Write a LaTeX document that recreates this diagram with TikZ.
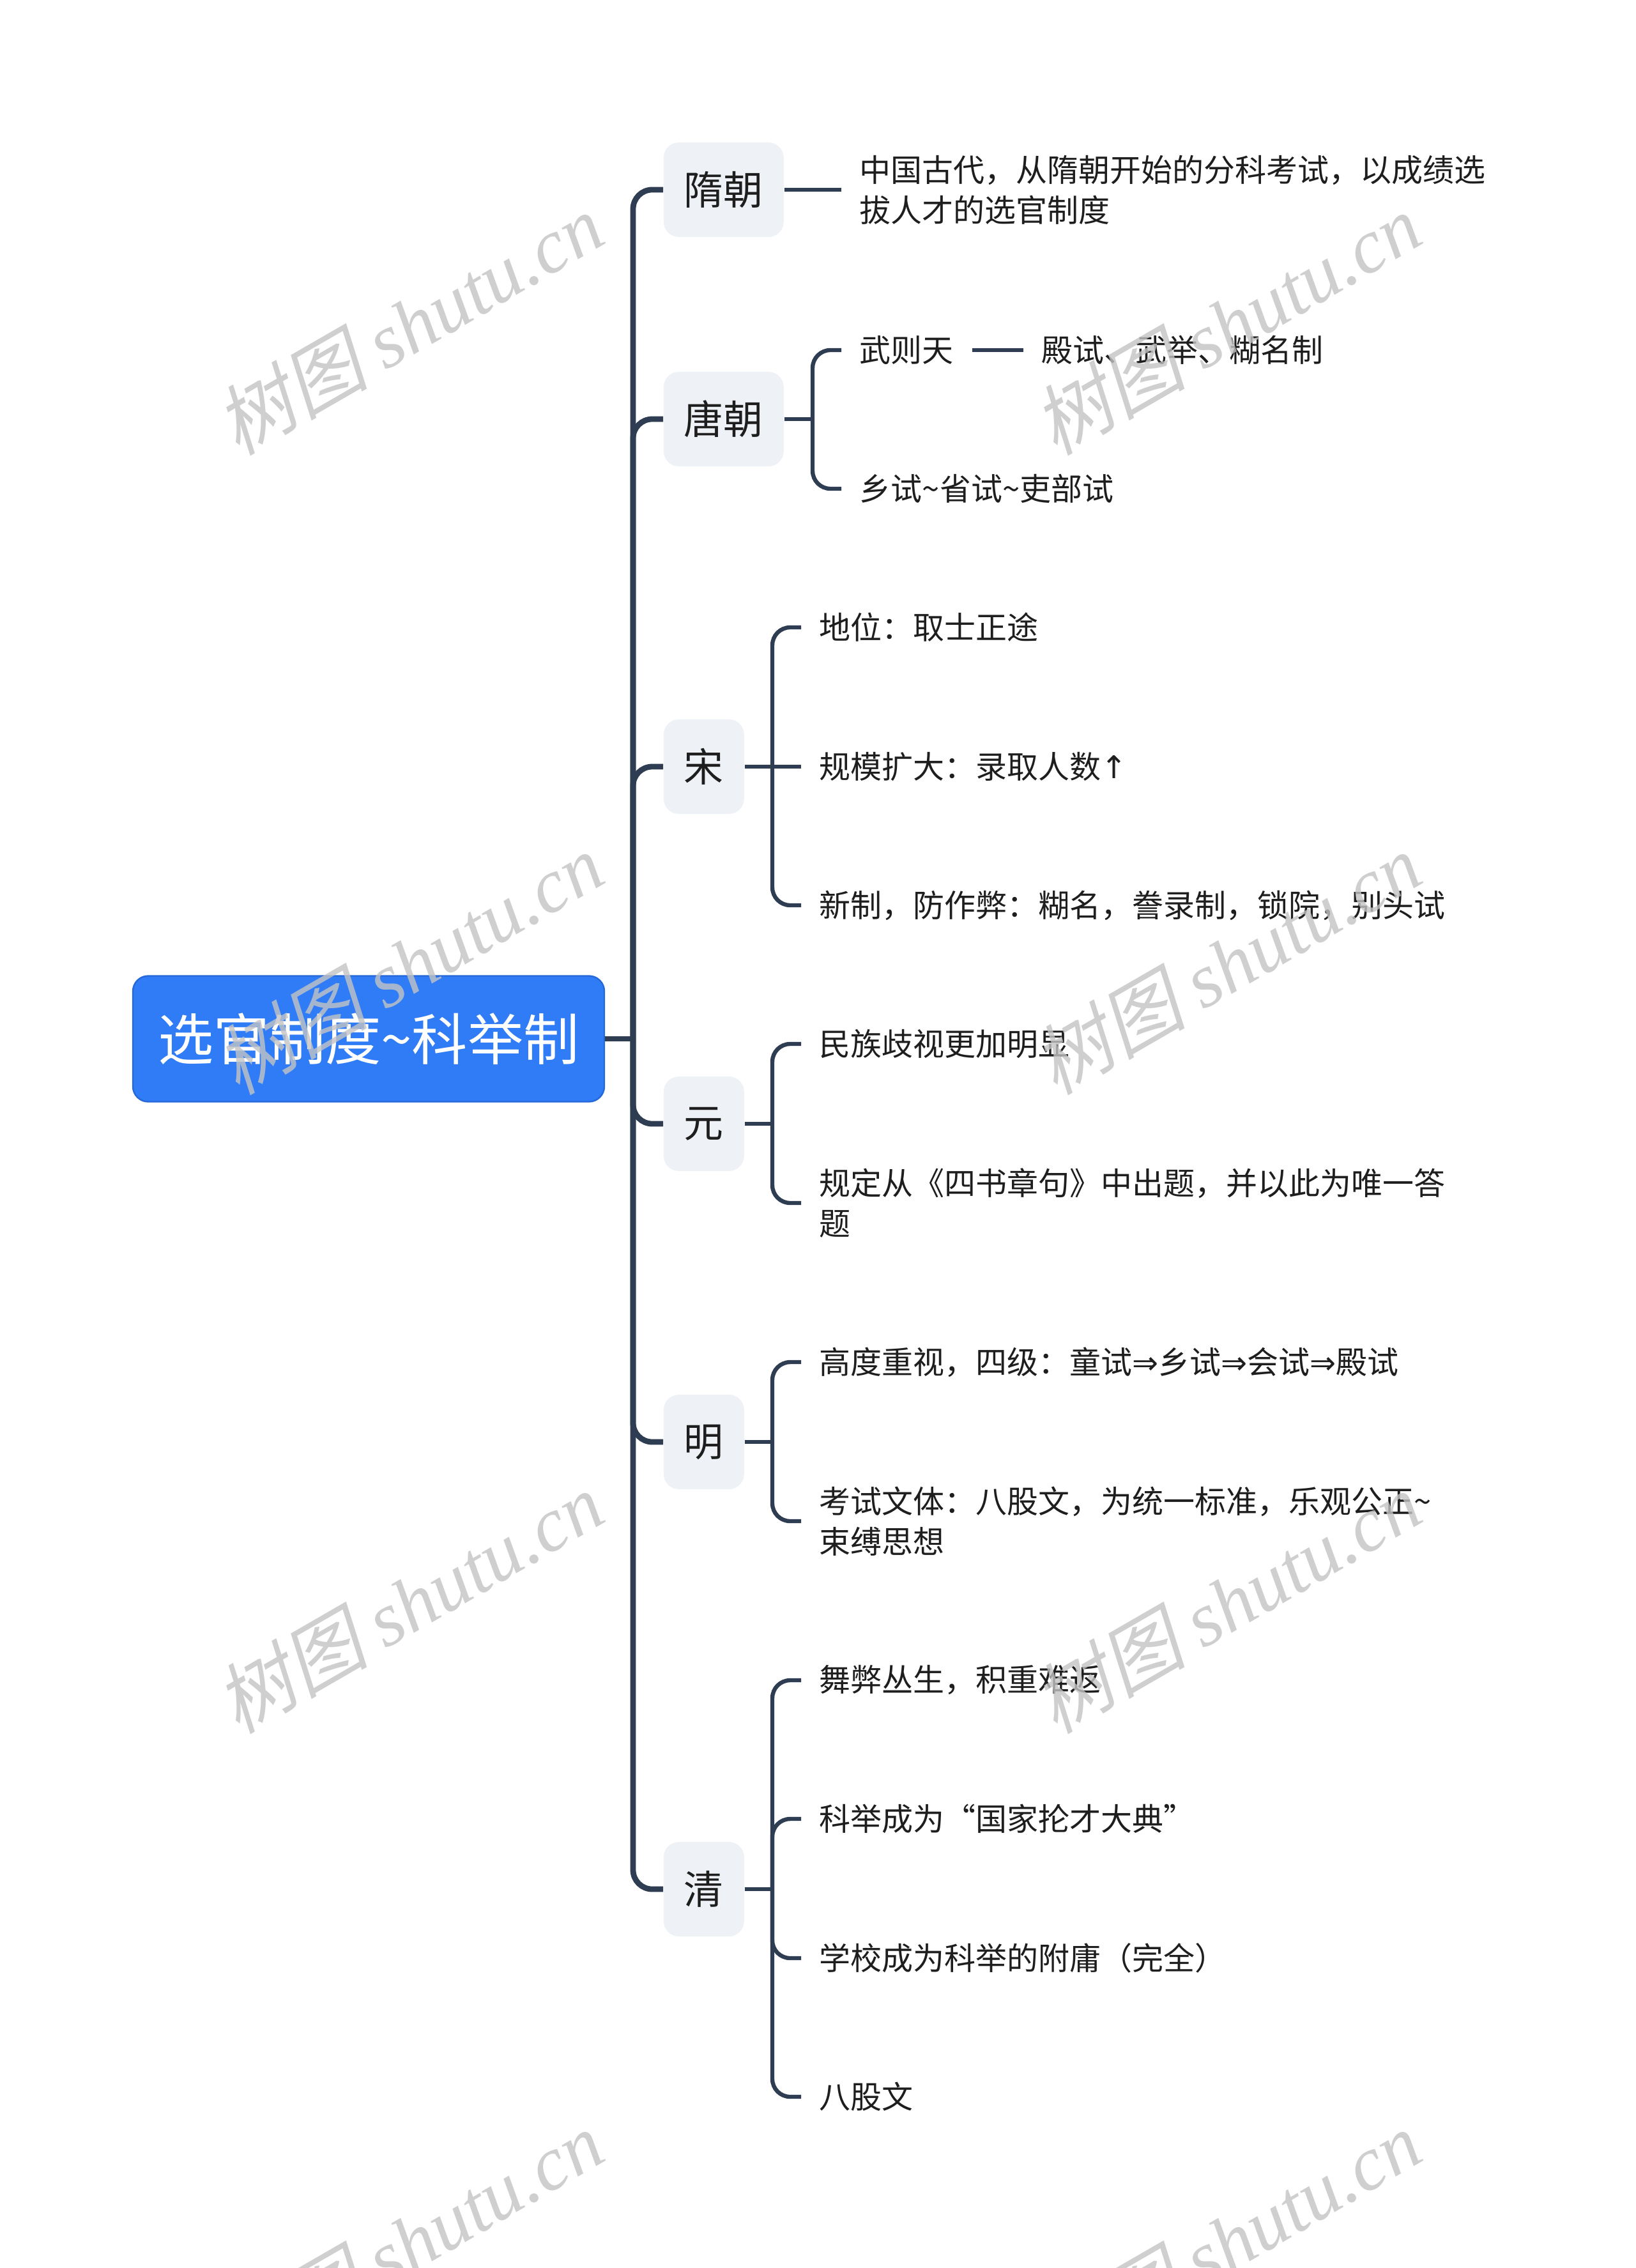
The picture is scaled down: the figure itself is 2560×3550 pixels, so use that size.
\documentclass[tikz,border=0pt]{standalone}
\usepackage{fontspec}
\setmainfont{Noto Sans CJK SC}
\newfontfamily\wmcjk[FakeSlant=0.22]{Noto Sans CJK SC}
\newfontfamily\wmlat{Liberation Serif}
\newfontfamily\symf{DejaVu Sans}
\newcommand{\tld}{\char"007E\relax}
\definecolor{lineC}{HTML}{2F3D52}
\definecolor{boxC}{HTML}{EEF1F5}
\definecolor{rootC}{HTML}{2F7CF6}
\definecolor{rootD}{HTML}{2568D8}
\definecolor{txtC}{HTML}{1E1E1E}
\definecolor{wmC}{HTML}{C4C4C4}
\begin{document}
\begin{tikzpicture}[x=0.25pt,y=-0.25pt,
 conn/.style={draw=lineC, line width=1.6pt, rounded corners=7pt},
 trunkc/.style={draw=lineC, line width=2.2pt, rounded corners=7.5pt},
 rootbox/.style={fill=rootC, draw=rootD, line width=0.6pt, rounded corners=6pt, minimum width=184.5pt, minimum height=49.25pt, inner sep=0pt, text=white, font=\fontsize{21.8pt}{25pt}\selectfont},
 lvone/.style={fill=boxC, rounded corners=6pt, minimum height=37pt, inner sep=0pt, font=\fontsize{15.5pt}{18pt}\selectfont, text=txtC, anchor=west},
 leaf/.style={anchor=west, inner xsep=7pt, inner ysep=1pt, align=left, font=\fontsize{12.25pt}{15.75pt}\selectfont, text=txtC},
 wm/.style={rotate=30, text=wmC, opacity=0.8, inner sep=0pt}
]
\fill[white] (0,0) rectangle (2560,3550);
\useasboundingbox (0,0) rectangle (2560,3550);

% root
\node[rootbox] (root) at (577,1626) {选官制度\tld 科举制};
\coordinate (tr) at (991,1626);
\draw[trunkc] (root.east) -- (tr);

% level one
\node[lvone, minimum width=47pt] (sui) at (1038,297) {隋朝};
\node[lvone, minimum width=47pt] (tang) at (1038,656) {唐朝};
\node[lvone, minimum width=31.5pt] (song) at (1038,1200) {宋};
\node[lvone, minimum width=31.5pt] (yuan) at (1038,1759) {元};
\node[lvone, minimum width=31.5pt] (ming) at (1038,2257) {明};
\node[lvone, minimum width=31.5pt] (qing) at (1038,2957) {清};
\foreach \n in {sui,tang,song,yuan,ming,qing}{\draw[trunkc] (tr) |- (\n.west);}

% sui
\node[leaf] (s1) at (1317,297) {中国古代，从隋朝开始的分科考试，以成绩选\\拔人才的选官制度};
\draw[conn] (sui.east) -- (s1.west);

% tang
\coordinate (tb) at (1272,656);
\draw[conn] (tang.east) -- (tb);
\node[leaf] (t1) at (1317,548) {武则天};
\node[leaf] (t1b) at (1602,548) {殿试、武举、糊名制};
\node[leaf] (t2) at (1317,765) {乡试\tld 省试\tld 吏部试};
\draw[conn] (tb) |- (t1.west);
\draw[conn] (tb) |- (t2.west);
\draw[conn] (t1.east) -- (t1b.west);

% song
\coordinate (sb) at (1209,1200);
\node[leaf] (so1) at (1254,982) {地位：取士正途};
\node[leaf] (so2) at (1254,1200) {规模扩大：录取人数{\symf ↑}};
\node[leaf] (so3) at (1254,1417) {新制，防作弊：糊名，誊录制，锁院，别头试};
\draw[conn] (song.east) -- (so2.west);
\draw[conn] (sb) |- (so1.west);
\draw[conn] (sb) |- (so3.west);

% yuan
\coordinate (yb) at (1209,1759);
\draw[conn] (yuan.east) -- (yb);
\node[leaf] (y1) at (1254,1634) {民族歧视更加明显};
\node[leaf] (y2) at (1254,1883) {规定从《四书章句》中出题，并以此为唯一答\\题};
\draw[conn] (yb) |- (y1.west);
\draw[conn] (yb) |- (y2.west);

% ming
\coordinate (mb) at (1209,2257);
\draw[conn] (ming.east) -- (mb);
\node[leaf] (m1) at (1254,2132) {高度重视，四级：童试{\symf ⇒}乡试{\symf ⇒}会试{\symf ⇒}殿试};
\node[leaf] (m2) at (1254,2381) {考试文体：八股文，为统一标准，乐观公正\tld\\束缚思想};
\draw[conn] (mb) |- (m1.west);
\draw[conn] (mb) |- (m2.west);

% qing
\coordinate (qb) at (1209,2957);
\draw[conn] (qing.east) -- (qb);
\node[leaf] (q1) at (1254,2630) {舞弊丛生，积重难返};
\node[leaf] (q2) at (1254,2847) {科举成为“国家抡才大典”};
\node[leaf] (q3) at (1254,3065) {学校成为科举的附庸（完全）};
\node[leaf] (q4) at (1254,3282) {八股文};
\draw[conn] (qb) |- (q1.west);
\draw[conn] (qb) |- (q2.west);
\draw[conn] (qb) |- (q3.west);
\draw[conn] (qb) |- (q4.west);

% watermarks
\foreach \wx in {640,1920}{
  \foreach \wy in {507,1508,2508,3508}{
    \node[wm] at (\wx,\wy) {\fontsize{30pt}{34pt}\selectfont{\wmcjk 树图} {\wmlat\itshape shutu.cn}};
  }
}
\end{tikzpicture}
\end{document}
